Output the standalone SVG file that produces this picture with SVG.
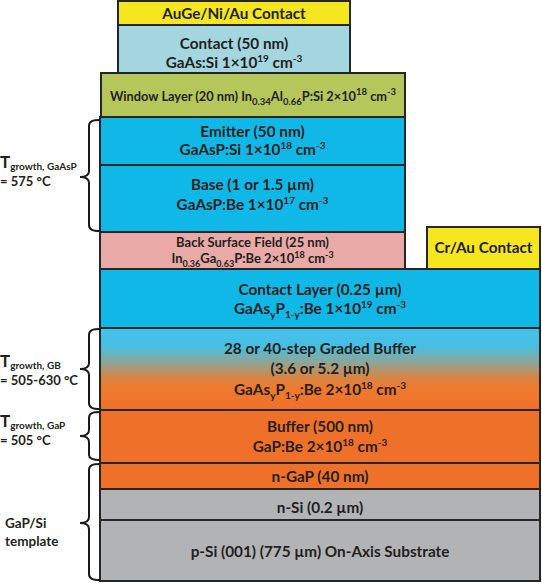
<svg xmlns="http://www.w3.org/2000/svg" width="542" height="583" viewBox="0 0 542 583">
<style>
.box{stroke:#262626;stroke-width:2}
.t{font-family:Lato,"Open Sans",sans-serif;font-weight:bold;fill:#231f20;font-size:15.3px;text-anchor:middle}
.s{font-size:13px}
.l{font-family:Lato,"Open Sans",sans-serif;font-weight:bold;fill:#231f20;font-size:13px}
.T{font-size:17px}
.sub{font-size:10px}
.yel{fill:#f6e620}
.cyan{fill:#10b8e8}
.orange{fill:#ef7129}
.gray{fill:#b2b3b5}
.brace{fill:none;stroke:#1a1a1a;stroke-width:2}
</style>
<defs>
<linearGradient id="gb" x1="0" y1="0" x2="0" y2="1">
<stop offset="0" stop-color="#44c2ee"/>
<stop offset="0.22" stop-color="#47bee2"/>
<stop offset="0.42" stop-color="#8fa597"/>
<stop offset="0.6" stop-color="#d68547"/>
<stop offset="0.72" stop-color="#ef7a2e"/>
<stop offset="1" stop-color="#ef7129"/>
</linearGradient>
</defs>

<g id="auge-contact">
<rect class="box yel" x="118" y="1" width="232" height="24"/>
<text class="t" x="234" y="19">AuGe/Ni/Au Contact</text>
</g>
<g id="gaas-contact">
<rect class="box" fill="#a3d6df" x="118" y="25" width="232" height="48"/>
<text class="t" x="234" y="49">Contact (50 nm)</text>
<text class="t" x="234" y="68">GaAs:Si 1×10<tspan class="sub" dy="-6">19</tspan><tspan dy="6"> cm</tspan><tspan class="sub" dy="-6">-3</tspan></text>
</g>
<g id="window">
<rect class="box" fill="#b5c65a" x="101" y="73" width="304" height="44"/>
<text class="t" x="253" y="101" style="font-size:12.8px">Window Layer (20 nm) In<tspan class="sub" dy="4" style="font-size:9.5px">0.34</tspan><tspan dy="-4">Al</tspan><tspan class="sub" dy="4" style="font-size:9.5px">0.66</tspan><tspan dy="-4">P:Si 2×10</tspan><tspan class="sub" dy="-6" style="font-size:9.5px">18</tspan><tspan dy="6"> cm</tspan><tspan class="sub" dy="-6" style="font-size:9.5px">-3</tspan></text>
</g>
<g id="emitter">
<rect class="box cyan" x="100" y="117" width="305" height="48"/>
<text class="t" x="252.5" y="137">Emitter (50 nm)</text>
<text class="t" x="252.5" y="155">GaAsP:Si 1×10<tspan class="sub" dy="-6">18</tspan><tspan dy="6"> cm</tspan><tspan class="sub" dy="-6">-3</tspan></text>
</g>
<g id="base">
<rect class="box cyan" x="100" y="165" width="305" height="67"/>
<text class="t" x="252.5" y="190">Base (1 or 1.5 µm)</text>
<text class="t" x="252.5" y="210">GaAsP:Be 1×10<tspan class="sub" dy="-6">17</tspan><tspan dy="6"> cm</tspan><tspan class="sub" dy="-6">-3</tspan></text>
</g>
<g id="bsf">
<rect class="box" fill="#e9a9a6" x="100" y="232" width="305" height="37"/>
<text class="t s" x="252.5" y="247">Back Surface Field (25 nm)</text>
<text class="t s" x="252.5" y="263">In<tspan class="sub" dy="3.5" style="font-size:9px">0.36</tspan><tspan dy="-3.5">Ga</tspan><tspan class="sub" dy="3.5" style="font-size:9px">0.63</tspan><tspan dy="-3.5">P:Be 2×10</tspan><tspan class="sub" dy="-5" style="font-size:9px">18</tspan><tspan dy="5"> cm</tspan><tspan class="sub" dy="-5" style="font-size:9px">-3</tspan></text>
</g>
<g id="crau-contact">
<rect class="box yel" x="427" y="227" width="113" height="42"/>
<text class="t" x="483.5" y="253">Cr/Au Contact</text>
</g>
<g id="contact-layer">
<rect class="box cyan" x="100" y="269" width="440" height="59"/>
<text class="t" x="320" y="295">Contact Layer (0.25 µm)</text>
<text class="t" x="320" y="314">GaAs<tspan class="sub" dy="4">y</tspan><tspan dy="-4">P</tspan><tspan class="sub" dy="4">1-y</tspan><tspan dy="-4">:Be 1×10</tspan><tspan class="sub" dy="-6">19</tspan><tspan dy="6"> cm</tspan><tspan class="sub" dy="-6">-3</tspan></text>
</g>
<g id="graded-buffer">
<rect class="box" fill="url(#gb)" x="100" y="328" width="440" height="82"/>
<text class="t" x="320" y="354">28 or 40-step Graded Buffer</text>
<text class="t" x="320" y="374">(3.6 or 5.2 µm)</text>
<text class="t" x="320" y="395">GaAs<tspan class="sub" dy="4">y</tspan><tspan dy="-4">P</tspan><tspan class="sub" dy="4">1-y</tspan><tspan dy="-4">:Be 2×10</tspan><tspan class="sub" dy="-6">18</tspan><tspan dy="6"> cm</tspan><tspan class="sub" dy="-6">-3</tspan></text>
</g>
<g id="buffer">
<rect class="box orange" x="100" y="410" width="440" height="53"/>
<text class="t" x="320" y="432">Buffer (500 nm)</text>
<text class="t" x="320" y="452">GaP:Be 2×10<tspan class="sub" dy="-6">18</tspan><tspan dy="6"> cm</tspan><tspan class="sub" dy="-6">-3</tspan></text>
</g>
<g id="n-gap">
<rect class="box orange" x="100" y="463" width="440" height="26"/>
<text class="t" x="320" y="482">n-GaP (40 nm)</text>
</g>
<g id="n-si">
<rect class="box gray" x="100" y="489" width="440" height="31"/>
<text class="t" x="320" y="513">n-Si (0.2 µm)</text>
</g>
<g id="substrate">
<rect class="box gray" x="100" y="520" width="440" height="61"/>
<text class="t" x="320" y="557">p-Si (001) (775 µm) On-Axis Substrate</text>
</g>

<g id="braces">
<path class="brace" d="M100,120 C93,120 89,121 89,126 L89,171 C89,175 86,177 80,177 C86,177 89,179 89,183 L89,225 C89,230 93,231 100,231"/>
<path class="brace" d="M100,329 C93,329 89,330 89,335 L89,363 C89,367 86,369 80,369 C86,369 89,371 89,375 L89,403 C89,408 93,409 100,409"/>
<path class="brace" d="M100,412 C93,412 89,413 89,418 L89,430 C89,434 86,436 80,436 C86,436 89,438 89,442 L89,455 C89,459 93,460 100,460"/>
<path class="brace" d="M100,464 C93,464 89,465 89,470 L89,517 C89,521 86,523 80,523 C86,523 89,525 89,529 L89,574 C89,579 93,580 100,580"/>
</g>

<g id="labels">
<text class="l" x="0" y="168"><tspan class="T">T</tspan><tspan class="sub" dy="2">growth, GaAsP</tspan></text>
<text class="l" x="0" y="186">= 575 °C</text>
<text class="l" x="0" y="367"><tspan class="T">T</tspan><tspan class="sub" dy="2">growth, GB</tspan></text>
<text class="l" x="0" y="385">= 505-630 °C</text>
<text class="l" x="0" y="427"><tspan class="T">T</tspan><tspan class="sub" dy="2">growth, GaP</tspan></text>
<text class="l" x="0" y="445">= 505 °C</text>
<text class="l" x="5" y="528" style="font-size:13.5px">GaP/Si</text>
<text class="l" x="5" y="546" style="font-size:13.5px">template</text>
</g>
</svg>
